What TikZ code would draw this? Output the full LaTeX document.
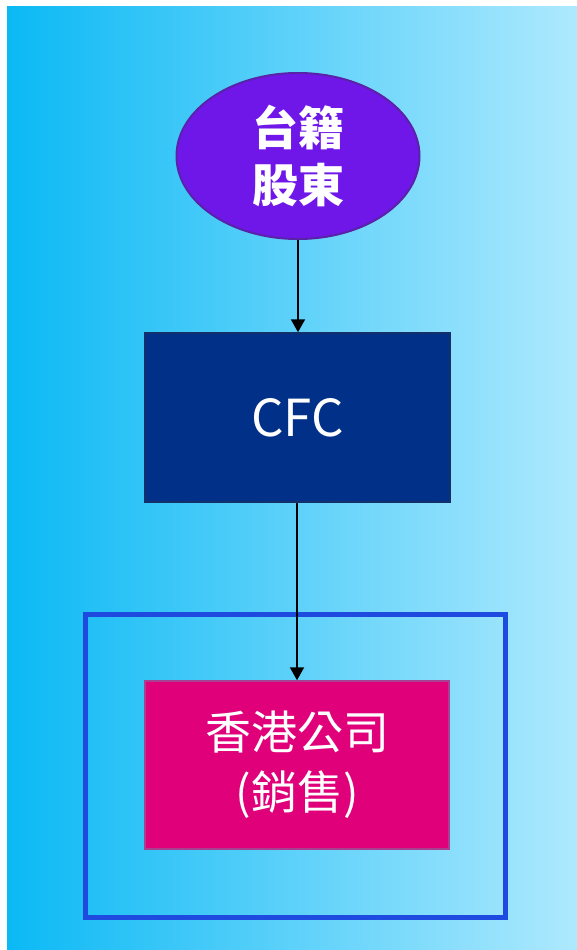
\documentclass[tikz,border=0pt]{standalone}
\usepackage{fontspec}
\setmainfont{Noto Sans CJK TC}
\usetikzlibrary{shapes.geometric,arrows.meta}
\definecolor{bgL}{HTML}{0BB9F5}
\definecolor{bgR}{HTML}{AEE9FE}
\definecolor{purp}{HTML}{6F16E8}
\definecolor{purpB}{HTML}{5A22A8}
\definecolor{navy}{HTML}{003088}
\definecolor{navyB}{HTML}{14306A}
\definecolor{mag}{HTML}{E0007A}
\definecolor{magB}{HTML}{A84090}
\definecolor{frameC}{HTML}{1E4AE0}
\tikzset{
  boxnode/.style={rectangle, line width=1.5pt, inner sep=0pt, text=white, align=center},
  conn/.style={line width=2pt, -{Triangle[length=13pt,width=14pt]}}
}
\begin{document}
\begin{tikzpicture}[x=1pt,y=-1pt]
\useasboundingbox (0,0) rectangle (577,950);
\fill[white] (0,0) rectangle (577,950);
\shade[left color=bgL,right color=bgR] (7,7) rectangle (577,950);
\node[ellipse, draw=purpB, fill=purp, line width=2pt, minimum width=243pt, minimum height=166pt, inner sep=0pt, text=white, align=center,
  font=\fontsize{46}{57}\selectfont\bfseries] (sh) at (298,156) {台籍\\股東};
\node[boxnode, draw=navyB, fill=navy, minimum width=305pt, minimum height=169pt, font=\fontsize{51}{60}\selectfont] (cfc) at (297.5,417.5) {CFC};
\draw[frameC, line width=5pt] (85,614) rectangle (505,917);
\node[boxnode, draw=magB, fill=mag, minimum width=304pt, minimum height=168pt, font=\fontsize{46}{60}\selectfont] (hk) at (297,765) {香港公司\\(銷售)};
\draw[conn] (sh.south) -- (sh.south |- cfc.north);
\draw[conn] (cfc.south -| hk.north) -- (hk.north);
\end{tikzpicture}
\end{document}
